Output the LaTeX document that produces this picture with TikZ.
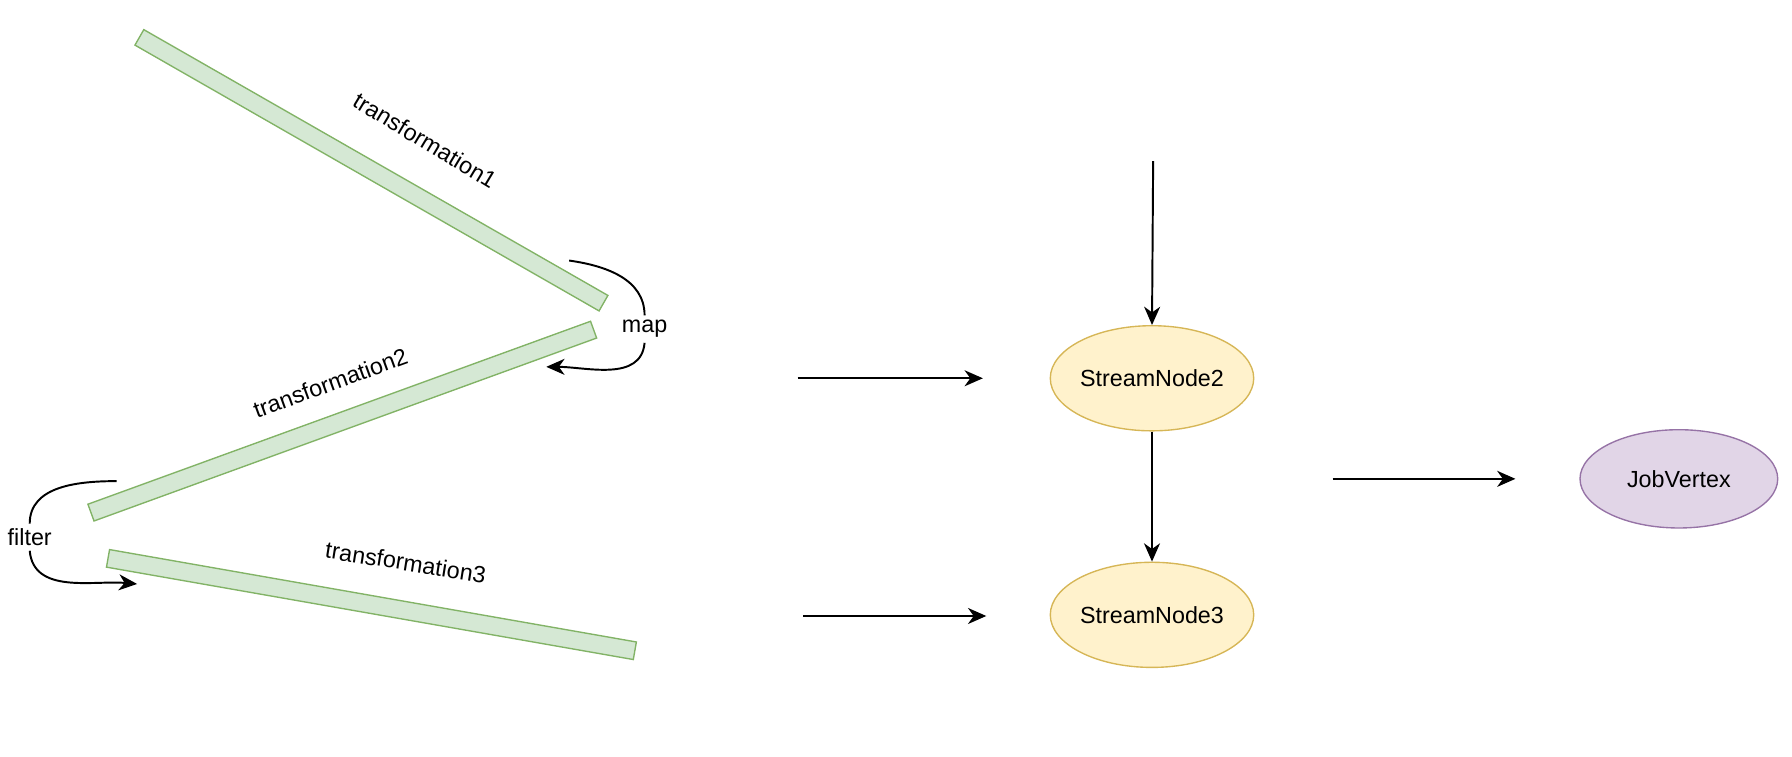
\documentclass[tikz,border=0pt]{standalone}
\usepackage{fontspec}
\setmainfont{Liberation Sans}
\usetikzlibrary{arrows.meta, shapes.geometric}
\definecolor{barfill}{HTML}{D5E8D4}
\definecolor{bardraw}{HTML}{82B366}
\definecolor{streamfill}{HTML}{FFF2CC}
\definecolor{streamdraw}{HTML}{D6B656}
\definecolor{jobfill}{HTML}{E1D5E7}
\definecolor{jobdraw}{HTML}{9673A6}
\tikzset{
	bar/.style = {draw=bardraw, fill=barfill, line width=0.6pt, minimum width=234pt, minimum height=7.8pt, inner sep=0pt},
	stream/.style = {ellipse, draw=streamdraw, fill=streamfill, line width=0.6pt, minimum width=87pt, minimum height=46pt, inner sep=0pt},
	job/.style = {ellipse, draw=jobdraw, fill=jobfill, line width=0.6pt, minimum width=86.5pt, minimum height=43pt, inner sep=0pt},
	flow/.style = {-{Stealth[length=8pt, width=7pt, inset=2.5pt]}, line width=0.85pt},
	curve/.style = {line width=0.85pt}
}

\begin{document}
\begin{tikzpicture}[x=0.5pt, y=0.5pt, font=\fontsize{10.2}{12}\selectfont]
	\useasboundingbox (0,0) rectangle (1568,662);
	% ====== Bars ========
	\node[bar, rotate=-29.8] (T1) at (325,513) {};
	\node[bar, rotate=20] (T2) at (299.5,293.5) {};
	\node[bar, rotate=-9.95] (T3) at (325,133) {};
	\node[rotate=-31] (L1) at (372,539) {transformation1};
	\node[rotate=20] (L2) at (289,327) {transformation2};
	\node[rotate=-9] (L3) at (355,170) {transformation3};
	% ====== map / filter ========
	\coordinate (M1) at (498,434);
	\coordinate (M2) at (478,341);
	\coordinate (F1) at (102,241);
	\coordinate (F2) at (120,151);
	\node[inner sep=2pt] (map) at (564,374) {map};
	\node[inner sep=2pt] (filter) at (26,192) {filter};
	\draw[curve] (M1) to[out=-8, in=90] (map.north);
	\draw[curve, flow] (map.south) to[out=-95, in=0] (M2);
	\draw[curve] (F1) to[out=180, in=90] (filter.north);
	\draw[curve, flow] (filter.south) to[out=-85, in=175] (F2);
	% ====== Stream nodes ========
	\node[stream] (SN2) at (1008,331) {StreamNode2};
	\node[stream] (SN3) at (1008,124) {StreamNode3};
	\node[job] (JV) at (1469,243) {JobVertex};
	\coordinate (A1) at (698,331);
	\coordinate (B1) at (860,331);
	\coordinate (A2) at (703,123);
	\coordinate (B2) at (863,123);
	\coordinate (A3) at (1166,243);
	\coordinate (B3) at (1326,243);
	\coordinate (S0) at (1009,521);
	\draw[flow] (A1) -- (B1);
	\draw[flow] (A2) -- (B2);
	\draw[flow] (A3) -- (B3);
	\draw[flow] (S0) -- (SN2.north);
	\draw[flow] (SN2.south) -- (SN3.north);
\end{tikzpicture}
\end{document}
